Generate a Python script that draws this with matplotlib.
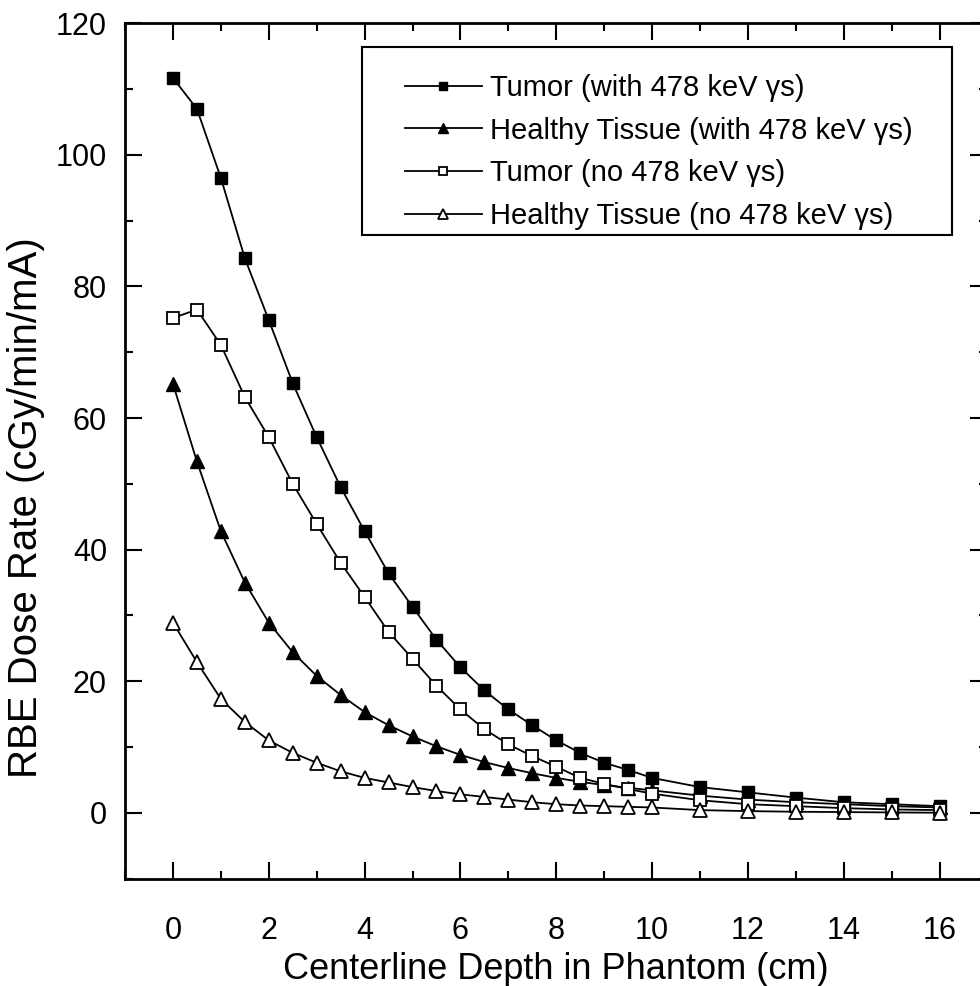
import matplotlib
matplotlib.use('Agg')
import matplotlib.pyplot as plt
from matplotlib.patches import Rectangle
from matplotlib.ticker import MultipleLocator

# depth points (cm)
depth = [0, 0.5, 1, 1.5, 2, 2.5, 3, 3.5, 4, 4.5, 5, 5.5, 6, 6.5, 7, 7.5, 8,
         8.5, 9, 9.5, 10, 11, 12, 13, 14, 15, 16]

tumor_with = [111.7, 107.0, 96.5, 84.3, 74.9, 65.3, 57.1, 49.5, 42.8, 36.4,
              31.3, 26.3, 22.1, 18.6, 15.7, 13.3, 11.0, 9.1, 7.6, 6.5, 5.3,
              3.9, 3.1, 2.3, 1.6, 1.3, 1.0]
healthy_with = [65.2, 53.4, 42.8, 35.0, 28.9, 24.4, 20.8, 17.9, 15.3, 13.3,
                11.6, 10.1, 8.8, 7.7, 6.8, 6.0, 5.3, 4.7, 4.2, 3.8, 3.4,
                2.6, 2.0, 1.6, 1.3, 1.0, 0.8]
tumor_no = [75.2, 76.5, 71.1, 63.2, 57.1, 50.0, 43.9, 38.0, 32.8, 27.5,
            23.4, 19.3, 15.7, 12.7, 10.4, 8.6, 7.0, 5.3, 4.4, 3.6, 2.9,
            1.9, 1.3, 1.0, 0.7, 0.5, 0.4]
healthy_no = [28.9, 22.9, 17.3, 13.8, 11.0, 9.1, 7.6, 6.3, 5.3, 4.6,
              3.9, 3.3, 2.8, 2.4, 2.0, 1.6, 1.3, 1.1, 1.0, 0.9, 0.8,
              0.4, 0.25, 0.15, 0.1, 0.05, 0.0]

labels = ['Tumor (with 478 keV \u03b3s)',
          'Healthy Tissue (with 478 keV \u03b3s)',
          'Tumor (no 478 keV \u03b3s)',
          'Healthy Tissue (no 478 keV \u03b3s)']

font = ['Liberation Sans', 'DejaVu Sans']

fig = plt.figure(figsize=(9.8, 9.86), dpi=100)
ax = fig.add_axes([0.1276, 0.109, 0.880, 0.8673])

ax.plot(depth, tumor_with, '-s', color='black', lw=1.3, ms=8.5,
        mfc='black', mec='black', label=labels[0], zorder=3)
ax.plot(depth, healthy_with, '-^', color='black', lw=1.3, ms=10,
        mfc='black', mec='black', label=labels[1], zorder=3)
ax.plot(depth, tumor_no, '-s', color='black', lw=1.3, ms=8.5,
        mfc='white', mec='black', mew=1.3, label=labels[2], zorder=4)
ax.plot(depth, healthy_no, '-^', color='black', lw=1.3, ms=10,
        mfc='white', mec='black', mew=1.3, label=labels[3], zorder=4)

ax.set_xlim(-1, 17)
ax.set_ylim(-10, 120)
ax.xaxis.set_major_locator(MultipleLocator(2))
ax.xaxis.set_minor_locator(MultipleLocator(1))
ax.yaxis.set_major_locator(MultipleLocator(20))
ax.yaxis.set_minor_locator(MultipleLocator(10))
ax.tick_params(which='both', direction='in', top=True, right=True, width=1.5)
ax.tick_params(which='major', length=12)
ax.tick_params(which='minor', length=6)
ax.tick_params(axis='x', pad=27)
ax.tick_params(axis='y', pad=13)
for lab in ax.get_xticklabels() + ax.get_yticklabels():
    lab.set_fontfamily(font)
    lab.set_fontsize(22)
for sp in ax.spines.values():
    sp.set_linewidth(2)

ax.set_xlabel('Centerline Depth in Phantom (cm)', fontsize=26, family=font,
              labelpad=4)
ax.set_ylabel('RBE Dose Rate (cGy/min/mA)', fontsize=29, family=font)
ax.yaxis.set_label_coords(-0.093, 0.434)

# legend box drawn separately so the padding can differ left/right vs top/bottom
box = Rectangle((0.2748, 0.7525), 0.959 - 0.2748, 0.9723 - 0.7525,
                transform=ax.transAxes, fill=True, facecolor='white',
                edgecolor='black', lw=1.5, zorder=5)
ax.add_patch(box)
leg = ax.legend(loc='upper left', bbox_to_anchor=(0.3247, 0.9407),
                borderaxespad=0, borderpad=0, frameon=False,
                markerscale=0.75, handlelength=2.63, handletextpad=0.27,
                labelspacing=0.5, prop={'family': font, 'size': 21})
leg.set_zorder(6)

fig.savefig('out.png', dpi=100)
